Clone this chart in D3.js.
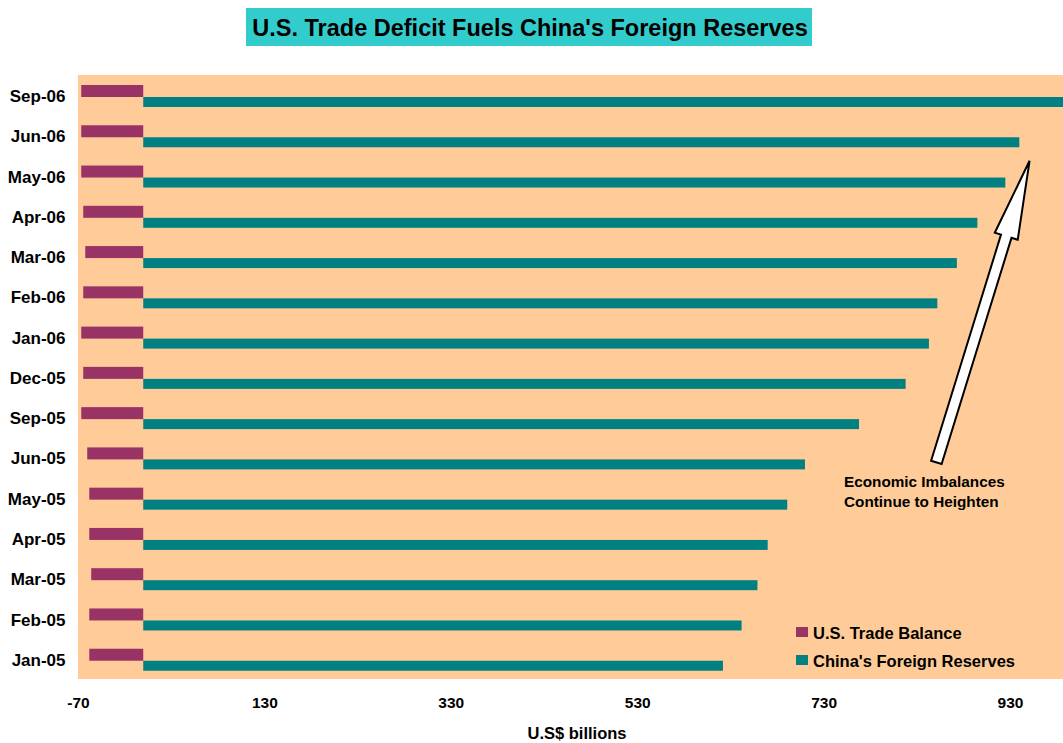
<!DOCTYPE html>
<html>
<head>
<meta charset="utf-8">
<script src="https://cdn.jsdelivr.net/npm/d3@7"></script>
<style>
  html, body { margin: 0; padding: 0; background: #ffffff; }
  svg { display: block; font-family: "Liberation Sans", Arial, sans-serif; }
</style>
</head>
<body>
<svg id="chart" width="1063" height="743"></svg>
<script>
// ---- Data (top to bottom as displayed) ----
const categories = ["Sep-06","Jun-06","May-06","Apr-06","Mar-06","Feb-06","Jan-06","Dec-05",
                    "Sep-05","Jun-05","May-05","Apr-05","Mar-05","Feb-05","Jan-05"];
const usTradeBalance = [-66.5,-66.5,-66.5,-64.4,-62.2,-64.4,-66.5,-64.4,
                        -66.5,-60.1,-57.9,-57.9,-55.8,-57.9,-57.9];
const chinaReserves = [988,940,925,895,873,852,843,818,
                       768,710,691,670,659,642,622];
const tickValues = [-70,130,330,530,730,930];
const seriesNames = ["U.S. Trade Balance","China's Foreign Reserves"];
const seriesColors = ["#993366","#008080"];
const titleText = "U.S. Trade Deficit Fuels China's Foreign Reserves";
const axisTitle = "U.S$ billions";
const annotationLines = ["Economic Imbalances","Continue to Heighten"];
// arrow annotation in data units: x value, y in category steps from top
const arrowTail = {x: 851, step: 9.62};
const arrowTip  = {x: 951, step: 2.13};

// ---- Layout ----
const svg = d3.select("#chart");
const plot = {left: 78, right: 1063, top: 75, bottom: 679};

const x = d3.scaleLinear().domain([-70, 1000]).range([78, 78 + 1070 * 0.932]);
const y = d3.scaleBand().domain(categories).range([plot.top, plot.bottom]).paddingInner(0).paddingOuter(0);
const step = y.step();
const yStep = s => plot.top + s * step;

// Title
const titleG = svg.append("g");
titleG.append("rect").attr("x", 246).attr("y", 8).attr("width", 566).attr("height", 38).attr("fill", "#33CCCC");
titleG.append("text").attr("x", 530).attr("y", 36).attr("text-anchor", "middle")
  .attr("font-size", 23.5).attr("font-weight", "bold").attr("fill", "#000").text(titleText);

// Plot background
svg.append("defs").append("clipPath").attr("id", "clip")
  .append("rect").attr("x", plot.left).attr("y", plot.top)
  .attr("width", plot.right - plot.left).attr("height", plot.bottom - plot.top);
svg.append("rect").attr("x", plot.left).attr("y", plot.top)
  .attr("width", plot.right - plot.left).attr("height", plot.bottom - plot.top)
  .attr("fill", "#FFCC99");

const barsG = svg.append("g").attr("clip-path", "url(#clip)");
const barH = 11;
const offTop = 10; // offset of first bar within band

// US trade balance bars
barsG.selectAll("rect.us").data(categories).join("rect").attr("class", "us")
  .attr("x", (d, i) => x(Math.min(0, usTradeBalance[i])))
  .attr("width", (d, i) => Math.abs(x(usTradeBalance[i]) - x(0)))
  .attr("y", d => y(d) + offTop)
  .attr("height", barH + 1)
  .attr("fill", seriesColors[0]);

// China reserves bars
barsG.selectAll("rect.cn").data(categories).join("rect").attr("class", "cn")
  .attr("x", x(0))
  .attr("width", (d, i) => x(chinaReserves[i]) - x(0))
  .attr("y", d => y(d) + offTop + barH + 1)
  .attr("height", barH - 1)
  .attr("fill", seriesColors[1]);

// Category labels
const yAxis = d3.axisLeft(y).tickSize(0).tickPadding(0);
const yG = svg.append("g").attr("transform", "translate(65.5,0)").call(yAxis);
yG.select(".domain").remove();
yG.selectAll("text").attr("font-size", 17).attr("font-weight", "bold")
  .attr("font-family", "Liberation Sans, Arial, sans-serif").attr("fill", "#000")
  .attr("dy", "0.35em").attr("y", 1);

// X axis tick labels
const xAxis = d3.axisBottom(x).tickValues(tickValues).tickSize(0).tickPadding(0).tickFormat(d => String(d));
const xG = svg.append("g").attr("transform", "translate(0,698)").call(xAxis);
xG.select(".domain").remove();
xG.selectAll("text").attr("font-size", 15.5).attr("font-weight", "bold")
  .attr("font-family", "Liberation Sans, Arial, sans-serif").attr("fill", "#000")
  .attr("dy", "0.35em").attr("y", 5);

// Axis title
svg.append("text").attr("x", 577).attr("y", 739).attr("text-anchor", "middle")
  .attr("font-size", 16.5).attr("font-weight", "bold").attr("fill", "#000").text(axisTitle);

// Legend
const leg = svg.append("g");
seriesNames.forEach((name, i) => {
  const ly = 627 + i * 28;
  leg.append("rect").attr("x", 796).attr("y", ly).attr("width", 12).attr("height", 10).attr("fill", seriesColors[i]);
  leg.append("text").attr("x", 813).attr("y", ly + 11.5).attr("font-size", 16.5).attr("font-weight", "bold")
    .attr("fill", "#000").text(name);
});

// Annotation text
annotationLines.forEach((t, i) => {
  svg.append("text").attr("x", 844).attr("y", 487 + i * 20).attr("font-size", 15.3).attr("font-weight", "bold")
    .attr("fill", "#000").text(t);
});

// Arrow annotation
(function drawArrow() {
  const tx = x(arrowTail.x), ty = yStep(arrowTail.step);
  const hx = x(arrowTip.x), hy = yStep(arrowTip.step);
  const dx = hx - tx, dy = hy - ty, len = Math.hypot(dx, dy);
  const ux = dx / len, uy = dy / len, nx = -uy, ny = ux;
  const shaftW = 11, headW = 24, headL = 79;
  const bx = hx - ux * headL, by = hy - uy * headL;
  const p = (cx, cy, s) => [cx + nx * s, cy + ny * s];
  const pts = [
    p(tx, ty, -shaftW / 2), p(bx, by, -shaftW / 2), p(bx, by, -headW / 2),
    [hx, hy], p(bx, by, headW / 2), p(bx, by, shaftW / 2), p(tx, ty, shaftW / 2)
  ];
  svg.append("polygon").attr("points", pts.map(q => q.join(",")).join(" "))
    .attr("fill", "#fff").attr("stroke", "#000").attr("stroke-width", 2).attr("stroke-linejoin", "miter");
})();
</script>
</body>
</html>
